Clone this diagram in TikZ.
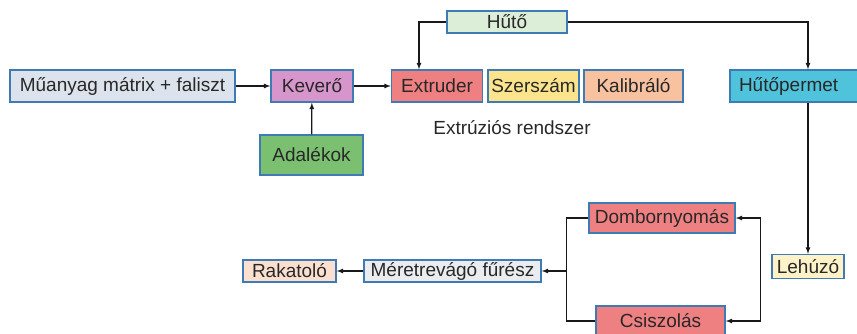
\documentclass[tikz,border=0pt]{standalone}
\usepackage{fontspec}
\setmainfont{Liberation Sans}
\usepackage{tikz}
\usetikzlibrary{arrows}
\usetikzlibrary{positioning,fit}

\definecolor{BoxBlue}{RGB}{62,122,180}
\definecolor{TextGray}{RGB}{40,40,40}
\definecolor{MixFill}{RGB}{220,227,236}
\definecolor{KevFill}{RGB}{214,150,204}
\definecolor{AdalFill}{RGB}{122,192,112}
\definecolor{RedFill}{RGB}{238,128,130}
\definecolor{SzerFill}{RGB}{252,228,140}
\definecolor{KalFill}{RGB}{248,194,160}
\definecolor{HutoFill}{RGB}{220,238,216}
\definecolor{CyanFill}{RGB}{80,195,220}
\definecolor{LehFill}{RGB}{253,242,200}
\definecolor{MeretFill}{RGB}{234,236,240}
\definecolor{RakFill}{RGB}{251,224,208}

\begin{document}
\begin{tikzpicture}[x=1pt, y=-1pt,
            BLOCK/.style={rectangle, draw=BoxBlue, line width=1.4pt, inner sep=0pt, minimum height=32, text=TextGray, font=\fontsize{19}{21}\selectfont},
            SMALL/.style={BLOCK, minimum height=22},
            FLOW/.style={-latex, line width=1.2pt, draw=black!90},
            LINE/.style={line width=1.2pt, draw=black!90},
        ]
        \useasboundingbox (0,0) rectangle (857,334);

        % felso sor
        \node[BLOCK, fill=MixFill, minimum width=225]  (Muanyag)    at (122.5,86) {Műanyag mátrix + faliszt};
        \node[BLOCK, fill=KevFill, minimum width=82]   (Kevero)     at (312,86)   {Keverő};
        \node[BLOCK, fill=AdalFill, minimum width=103, minimum height=40] (Adalekok) at (311.5,155) {Adalékok};
        \node[BLOCK, fill=RedFill, minimum width=91]   (Extruder)   at (437,86)   {Extruder};
        \node[BLOCK, fill=SzerFill, minimum width=91]  (Szerszam)   at (533.5,86) {Szerszám};
        \node[BLOCK, fill=KalFill, minimum width=99]   (Kalibralo)  at (633.5,86) {Kalibráló};
        \node[SMALL, fill=HutoFill, minimum width=120] (Huto)       at (507,22)   {Hűtő};
        \node[BLOCK, fill=CyanFill, minimum width=132, text width=114] (Hutopermet) at (796,86) {Hűtőpermet};
        \node[text=TextGray, font=\fontsize{19}{21}\selectfont] (Rendszer) at (512,128) {Extrúziós rendszer};

        % also resz
        \node[SMALL, fill=LehFill, minimum width=72, minimum height=24] (Lehuzo) at (808,266.5) {Lehúzó};
        \node[BLOCK, fill=RedFill, minimum width=146, minimum height=30] (Dombornyomas) at (662,218) {Dombornyomás};
        \node[BLOCK, fill=RedFill, minimum width=129, minimum height=30] (Csiszolas)    at (660.5,321) {Csiszolás};
        \node[SMALL, fill=MeretFill, minimum width=177] (Meretrevago) at (452.5,271) {Méretrevágó fűrész};
        \node[SMALL, fill=RakFill, minimum width=93]    (Rakatolo)    at (289.5,271) {Rakatoló};

        \draw[FLOW] (Muanyag) -- (Kevero);
        \draw[FLOW] (Kevero) -- (Extruder);
        \draw[FLOW] (Adalekok) -- (Kevero);
        \draw[FLOW] (Huto.west) -| ([xshift=-18]Extruder.north);
        \draw[FLOW] (Huto.east) -| (Hutopermet.north -| Lehuzo);
        \draw[FLOW] (Hutopermet.south -| Lehuzo) -- (Lehuzo.north);

        \coordinate (RB) at ([xshift=25]Dombornyomas.east);
        \draw[FLOW] (RB) -- (Dombornyomas.east);
        \draw[FLOW] (RB) |- (Csiszolas.east);

        \coordinate (LB) at ([xshift=-22]Dombornyomas.west);
        \draw[LINE] (Dombornyomas.west) -- (LB) |- (Csiszolas.west);
        \draw[FLOW] (LB |- Meretrevago) -- (Meretrevago.east);
        \draw[FLOW] (Meretrevago) -- (Rakatolo);

    \end{tikzpicture}
\end{document}
